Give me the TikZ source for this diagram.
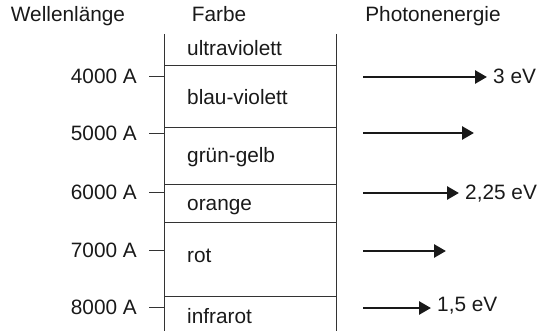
\documentclass[tikz,border=0pt]{standalone}
\usepackage{fontspec}
\setmainfont{Liberation Sans}
\usetikzlibrary{arrows.meta}
\begin{document}
\begin{tikzpicture}[x=1pt,y=-1pt,
  txt/.style={font=\fontsize{20.8}{24}\selectfont, inner sep=0pt, text=black!90},
  thinline/.style={line width=1pt, draw=black!80},
  energyarrow/.style={line width=2.7pt, draw=black!90, -{Triangle[length=12pt,width=13pt]}}]
\useasboundingbox (0,0) rectangle (540,331);
% headers
\node[txt, anchor=base] (hw) at (68,22) {Wellenlänge};
\node[txt, anchor=base] (hf) at (219,22) {Farbe};
\node[txt, anchor=base] (hp) at (433,22) {Photonenergie};
% column frame
\coordinate (lt) at (164,34);
\coordinate (lb) at (164,331);
\coordinate (rt) at (336,34);
\coordinate (rb) at (336,331);
\draw[thinline] (lt) -- (lb);
\draw[thinline] (rt) -- (rb);
% boundaries
\foreach \y/\n in {66/b1,128/b2,184/b3,222/b4,296/b5}{
  \coordinate (\n l) at (164,\y);
  \coordinate (\n r) at (336,\y);
  \draw[thinline] (\n l) -- (\n r);
}
% colour names
\node[txt, anchor=base west] (c1) at (187,56) {ultraviolett};
\node[txt, anchor=base west] (c2) at (187,105) {blau-violett};
\node[txt, anchor=base west] (c3) at (187,162) {grün-gelb};
\node[txt, anchor=base west] (c4) at (187,210) {orange};
\node[txt, anchor=base west] (c5) at (187,262) {rot};
\node[txt, anchor=base west] (c6) at (187,323) {infrarot};
% wavelength ticks and labels
\foreach \y/\lab/\n in {77/4000 A/w1,134/5000 A/w2,192/6000 A/w3,250/7000 A/w4,307/8000 A/w5}{
  \node[txt, anchor=base east] (\n) at (137,\y+7) {\lab};
  \coordinate (\n a) at (149,\y);
  \coordinate (\n b) at (164,\y);
  \draw[thinline] (\n a) -- (\n b);
}
% energy arrows
\coordinate (a1s) at (363,77);  \coordinate (a1e) at (487,77);
\coordinate (a2s) at (363,133); \coordinate (a2e) at (474,133);
\coordinate (a3s) at (363,193); \coordinate (a3e) at (459,193);
\coordinate (a4s) at (363,251); \coordinate (a4e) at (446,251);
\coordinate (a5s) at (363,308); \coordinate (a5e) at (431,308);
\draw[energyarrow] (a1s) -- (a1e);
\draw[energyarrow] (a2s) -- (a2e);
\draw[energyarrow] (a3s) -- (a3e);
\draw[energyarrow] (a4s) -- (a4e);
\draw[energyarrow] (a5s) -- (a5e);
\node[txt, anchor=base west] (e1) at (493,84) {3 eV};
\node[txt, anchor=base west] (e3) at (465,199) {2,25 eV};
\node[txt, anchor=base west] (e5) at (437,311) {1,5 eV};
\end{tikzpicture}
\end{document}
